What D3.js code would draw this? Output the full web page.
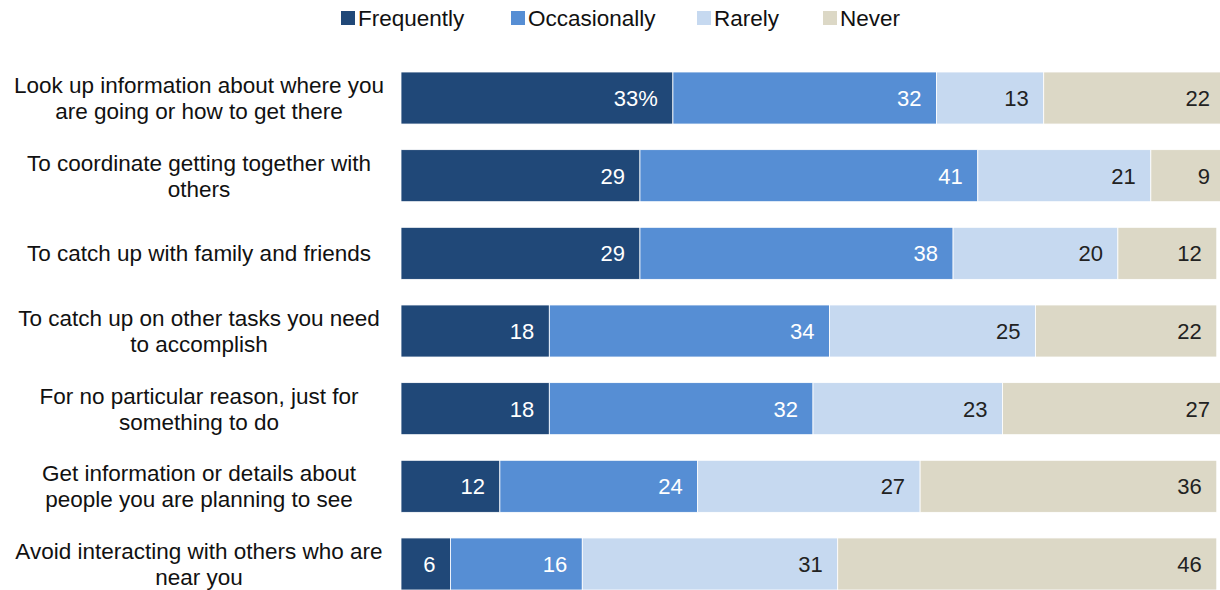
<!DOCTYPE html>
<html>
<head>
<meta charset="utf-8">
<script src="https://cdn.jsdelivr.net/npm/d3@7"></script>
<style>
  html, body { margin: 0; padding: 0; background: #fff; overflow: hidden; }
  svg { display: block; font-family: "Liberation Sans", Arial, sans-serif; }
</style>
</head>
<body>
<svg id="chart" width="1220" height="590"></svg>
<script>
// Reasons for using a phone in social settings, share answering each frequency
const categories = [
  ["Look up information about where you", "are going or how to get there"],
  ["To coordinate getting together with", "others"],
  ["To catch up with family and friends"],
  ["To catch up on other tasks you need", "to accomplish"],
  ["For no particular reason, just for", "something to do"],
  ["Get information or details about", "people you are planning to see"],
  ["Avoid interacting with others who are", "near you"]
];
const seriesNames = ["Frequently", "Occasionally", "Rarely", "Never"];
const frequently = [33, 29, 29, 18, 18, 12, 6];
const occasionally = [32, 41, 38, 34, 32, 24, 16];
const rarely = [13, 21, 20, 25, 23, 27, 31];
const never = [22, 9, 12, 22, 27, 36, 46];

const colors = ["#204878", "#568ed4", "#c6d9f0", "#dcd8c6"];
const labelColors = ["#ffffff", "#ffffff", "#222222", "#222222"];

const svg = d3.select("#chart");
const seriesValues = [frequently, occasionally, rarely, never];

const rows = categories.map((c, i) => {
  const vals = seriesValues.map(s => s[i]);
  let acc = 0;
  const segs = vals.map((v, k) => {
    const s = { key: seriesNames[k], k, v, x0: acc, x1: acc + v };
    acc += v;
    return s;
  });
  return { lines: c, i, segs };
});

const x = d3.scaleLinear().domain([0, 100]).range([401, 1225]);
const y = d3.scaleBand().domain(d3.range(categories.length)).range([72, 590]).paddingInner(0.33).paddingOuter(0);

// Bars
const rowG = svg.selectAll("g.row").data(rows).join("g").attr("class", "row");
rowG.selectAll("rect").data(d => d.segs.map(s => ({ ...s, i: d.i }))).join("rect")
  .attr("x", s => x(s.x0))
  .attr("y", s => y(s.i))
  .attr("width", s => x(s.x1) - x(s.x0))
  .attr("height", y.bandwidth())
  .attr("fill", s => colors[s.k])
  .attr("stroke", "#ffffff")
  .attr("stroke-width", 0.8);

// Value labels, right-aligned inside each segment
rowG.selectAll("text.val").data(d => d.segs.map(s => ({ ...s, i: d.i }))).join("text")
  .attr("class", "val")
  .attr("x", s => x(s.x1) - 15)
  .attr("y", s => y(s.i) + y.bandwidth() / 2)
  .attr("dy", "0.36em")
  .attr("text-anchor", "end")
  .attr("font-size", 22)
  .attr("fill", s => labelColors[s.k])
  .text(s => (s.i === 0 && s.k === 0) ? s.v + "%" : s.v);

// Category labels, centred on the left
const labelX = 199;
rowG.append("text")
  .attr("text-anchor", "middle")
  .attr("font-size", 22.5)
  .attr("fill", "#111")
  .each(function(d) {
    const t = d3.select(this);
    const n = d.lines.length;
    const cy = y(d.i) + y.bandwidth() / 2;
    d.lines.forEach((ln, j) => {
      t.append("tspan")
        .attr("x", labelX)
        .attr("y", cy + (j - (n - 1) / 2) * 26)
        .attr("dy", "0.35em")
        .text(ln);
    });
  });

// Legend
const legendX = [341, 511, 697, 823];
const legend = svg.selectAll("g.leg").data(seriesNames).join("g").attr("class", "leg")
  .attr("transform", (d, k) => `translate(${legendX[k]},0)`);
legend.append("rect").attr("x", 0).attr("y", 11).attr("width", 14).attr("height", 14)
  .attr("fill", (d, k) => colors[k]);
legend.append("text").attr("x", 17).attr("y", 18).attr("dy", "0.36em")
  .attr("font-size", 22.5).attr("fill", "#111").text(d => d);
</script>
</body>
</html>
